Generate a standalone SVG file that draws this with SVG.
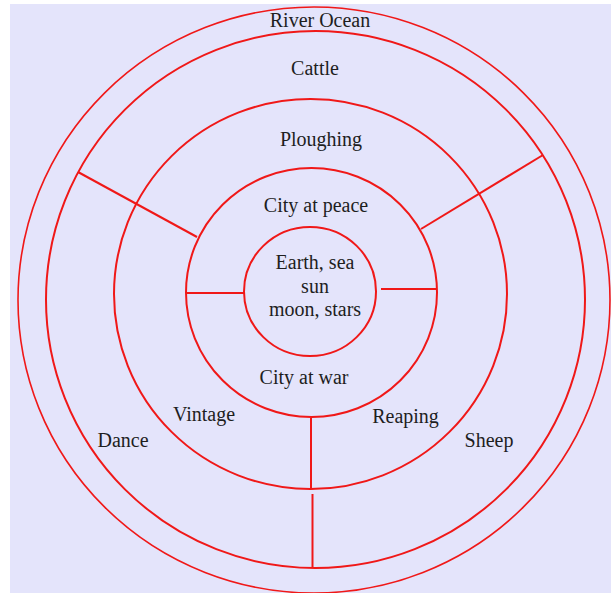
<svg xmlns="http://www.w3.org/2000/svg" width="611" height="593" viewBox="0 0 611 593">
<style>
.ring{fill:none;stroke:#f01818;stroke-width:2}
.thin{stroke-width:1.6}
.sp{stroke:#f01818;stroke-width:2;fill:none}
text{font-family:"Liberation Serif","Times New Roman",serif;font-size:20px;fill:#1e1e1e;text-anchor:middle}
</style>
<rect x="0" y="0" width="611" height="593" fill="#ffffff"/>
<rect x="10" y="4" width="601" height="589" fill="#e4e4fb"/>
<g id="river-ocean">
<ellipse class="ring thin" cx="314" cy="300" rx="296" ry="293"/>
<text x="320" y="27">River Ocean</text>
</g>
<g id="outer-ring">
<ellipse class="ring" cx="315.5" cy="299.5" rx="269.5" ry="268.5"/>
<text x="315" y="75">Cattle</text>
<text x="123" y="447">Dance</text>
<text x="489" y="447">Sheep</text>
</g>
<g id="ploughing-ring">
<ellipse class="ring" cx="310.5" cy="294" rx="196.5" ry="195"/>
<text x="321" y="146">Ploughing</text>
<text x="204" y="421">Vintage</text>
<text x="405.5" y="423">Reaping</text>
</g>
<g id="city-ring">
<ellipse class="ring" cx="311.5" cy="292.5" rx="125.5" ry="124.5"/>
<text x="316" y="212">City at peace</text>
<text x="304" y="384">City at war</text>
</g>
<g id="center">
<ellipse class="ring" cx="310" cy="291.5" rx="66" ry="64.5"/>
<text x="315" y="269">Earth, sea</text>
<text x="315" y="293">sun</text>
<text x="315" y="316">moon, stars</text>
</g>
<g id="connectors">
<line class="sp" x1="186" y1="293" x2="244" y2="293"/>
<line class="sp" x1="381" y1="289" x2="437" y2="289"/>
<line class="sp" x1="78" y1="172" x2="197" y2="237"/>
<line class="sp" x1="421" y1="229" x2="543" y2="155"/>
<line class="sp" x1="311" y1="418" x2="311" y2="489"/>
<line class="sp" x1="312.5" y1="494" x2="312.5" y2="568"/>
</g>
</svg>
